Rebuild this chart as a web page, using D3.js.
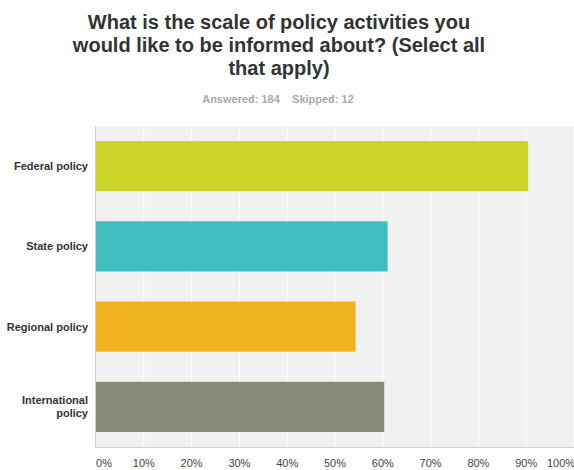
<!DOCTYPE html>
<html>
<head>
<meta charset="utf-8">
<script src="https://cdn.jsdelivr.net/npm/d3@7"></script>
<style>
  body { margin: 0; background: #fff; }
  svg { display: block; font-family: "Liberation Sans", Arial, Helvetica, sans-serif; }
</style>
</head>
<body>
<div id="chart"></div>
<script>
const width = 574;
const height = 470;

// survey answers
const categories = ["Federal policy", "State policy", "Regional policy", "International policy"];
const percents = [90.4, 61.0, 54.3, 60.3];
const barColors = ["#cdd52b", "#3fbdc0", "#f0b21e", "#888a77"];
const tickValues = [0, 10, 20, 30, 40, 50, 60, 70, 80, 90, 100];
const titleLines = ["What is the scale of policy activities you", "would like to be informed about? (Select all", "that apply)"];
const subtitle = "Answered: 184    Skipped: 12";

const margin = { top: 126, right: 0, bottom: 23, left: 96 };

const svg = d3.select("#chart")
    .append("svg")
    .attr("width", width)
    .attr("height", height);

// title
svg.append("g")
    .selectAll("text")
    .data(titleLines)
    .join("text")
    .attr("x", 279)
    .attr("y", (d, i) => 29 + i * 23)
    .attr("text-anchor", "middle")
    .attr("font-size", 20)
    .attr("font-weight", "bold")
    .attr("fill", "#333")
    .text(d => d);

svg.append("text")
    .attr("x", 278)
    .attr("y", 103)
    .attr("text-anchor", "middle")
    .attr("font-size", 11)
    .attr("font-weight", "bold")
    .attr("fill", "#aaa")
    .style("white-space", "pre")
    .text(subtitle);

const x = d3.scaleLinear()
    .domain([0, 100])
    .range([margin.left, width - margin.right]);

const y = d3.scaleBand()
    .domain(categories)
    .range([margin.top, height - margin.bottom])
    .paddingInner(0.375)
    .paddingOuter(0.1875);

// plot background
svg.append("rect")
    .attr("x", margin.left)
    .attr("y", margin.top)
    .attr("width", width - margin.left - margin.right)
    .attr("height", height - margin.top - margin.bottom)
    .attr("fill", "#f0f1f0");

// gridlines
svg.append("g")
    .selectAll("line")
    .data(tickValues.slice(1))
    .join("line")
    .attr("x1", d => x(d))
    .attr("x2", d => x(d))
    .attr("y1", margin.top)
    .attr("y2", height - margin.bottom)
    .attr("stroke", "#fff")
    .attr("stroke-width", 1);

// bars
svg.append("g")
    .selectAll("rect")
    .data(categories)
    .join("rect")
    .attr("x", x(0))
    .attr("y", d => y(d))
    .attr("width", (d, i) => x(percents[i]) - x(0))
    .attr("height", y.bandwidth())
    .attr("fill", (d, i) => barColors[i]);

// axis lines
svg.append("line")
    .attr("x1", margin.left - 0.5).attr("x2", margin.left - 0.5)
    .attr("y1", margin.top).attr("y2", height - margin.bottom + 0.5)
    .attr("stroke", "#d0d0d0");
svg.append("line")
    .attr("x1", margin.left - 0.5).attr("x2", width)
    .attr("y1", height - margin.bottom + 0.5).attr("y2", height - margin.bottom + 0.5)
    .attr("stroke", "#d0d0d0");

// x tick labels
svg.append("g")
    .selectAll("text")
    .data(tickValues)
    .join("text")
    .attr("x", d => d === 0 ? x(d) + 8 : d === 100 ? x(d) - 13 : x(d))
    .attr("y", 467)
    .attr("text-anchor", "middle")
    .attr("font-size", 11)
    .attr("fill", "#444")
    .text(d => d + "%");

// y labels, wrapped
const yLabels = svg.append("g")
    .selectAll("text")
    .data(categories)
    .join("text")
    .attr("text-anchor", "end")
    .attr("font-size", 11)
    .attr("font-weight", "bold")
    .attr("fill", "#333");

yLabels.each(function(d) {
    const lines = d === "International policy" ? ["International", "policy"] : [d];
    const cy = y(d) + y.bandwidth() / 2;
    d3.select(this).selectAll("tspan")
        .data(lines)
        .join("tspan")
        .attr("x", 88)
        .attr("y", (l, i) => cy + 4 + (i - (lines.length - 1) / 2) * 13)
        .text(l => l);
});
</script>
</body>
</html>
